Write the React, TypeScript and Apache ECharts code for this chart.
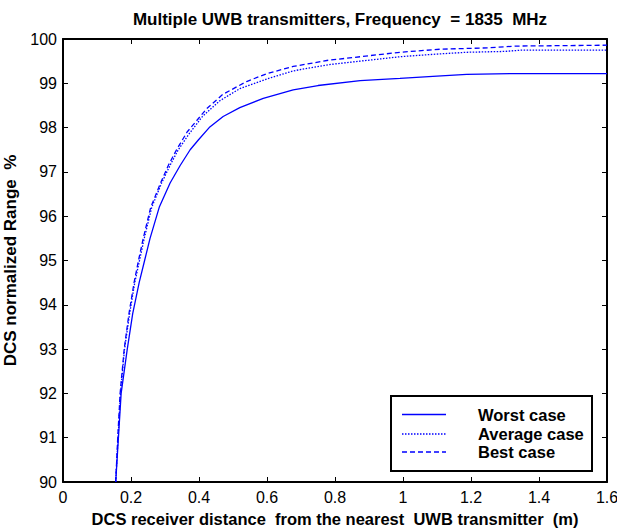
import React, { useEffect, useRef } from "react";
import * as echarts from "echarts";

const worstX = [0.155, 0.163, 0.171, 0.189, 0.205, 0.224, 0.24, 0.256, 0.283, 0.315, 0.345, 0.374, 0.398, 0.43, 0.471, 0.52, 0.589, 0.677, 0.75, 0.874, 0.991, 1.1, 1.187, 1.324, 1.6];
const worstY = [90, 91, 92, 93, 93.8, 94.5, 95.0, 95.5, 96.2, 96.75, 97.15, 97.5, 97.72, 98.0, 98.25, 98.45, 98.66, 98.85, 98.95, 99.06, 99.11, 99.16, 99.2, 99.22, 99.22];

const avgX = [0.155, 0.162, 0.169, 0.181, 0.196, 0.211, 0.225, 0.239, 0.261, 0.29, 0.315, 0.339, 0.37, 0.41, 0.46, 0.52, 0.6, 0.677, 0.78, 0.874, 0.991, 1.1, 1.187, 1.3, 1.35, 1.6];
const avgY = [90, 91, 92, 93, 93.8, 94.5, 95.0, 95.5, 96.2, 96.75, 97.15, 97.5, 97.85, 98.25, 98.6, 98.88, 99.1, 99.28, 99.42, 99.5, 99.6, 99.66, 99.7, 99.72, 99.75, 99.75];

const bestX = [0.155, 0.161, 0.168, 0.18, 0.194, 0.209, 0.222, 0.236, 0.258, 0.287, 0.31, 0.334, 0.365, 0.423, 0.47, 0.54, 0.6, 0.677, 0.78, 0.874, 0.991, 1.11, 1.25, 1.33, 1.6];
const bestY = [90, 91, 92, 93, 93.8, 94.5, 95.0, 95.5, 96.2, 96.75, 97.15, 97.5, 97.9, 98.43, 98.75, 99.04, 99.22, 99.38, 99.52, 99.6, 99.7, 99.77, 99.8, 99.84, 99.86];

const seriesNames = ["Worst case", "Average case", "Best case"];

const BLUE = "#0000ff";
const FONT = "Liberation Sans, Arial, Helvetica, sans-serif";

function pairs(xs: number[], ys: number[]) {
  return xs.map((x, i) => [x, ys[i]]);
}

export default function App() {
  const ref = useRef<HTMLDivElement>(null);
  useEffect(() => {
    document.body.style.margin = "0";
    const chart = echarts.init(ref.current!, null, { renderer: "svg" });
    const gridL = 63, gridT = 39, gridR = 10, gridB = 47;
    const axisCommon = {
      axisLine: { show: true, onZero: false, lineStyle: { color: "#000", width: 2 } },
      axisTick: { show: true, inside: true, length: 5, lineStyle: { color: "#000", width: 1 } },
      splitLine: { show: false },
    };
    const legendX = 391, legendY = 396;
    const rowY = [414.5, 434, 452];
    const dashes: any[] = [null, [1.5, 1.5], [5, 3]];
    const legendEls: any[] = [
      {
        type: "rect",
        shape: { x: legendX, y: legendY, width: 201, height: 75 },
        style: { fill: "#fff", stroke: "#000", lineWidth: 2 },
        z: 100,
      },
    ];
    seriesNames.forEach((n, i) => {
      legendEls.push({
        type: "line",
        shape: { x1: 402, y1: rowY[i], x2: 446, y2: rowY[i] },
        style: { stroke: BLUE, lineWidth: 1.3, lineDash: dashes[i] },
        z: 101,
      });
      legendEls.push({
        type: "text",
        x: 478,
        y: rowY[i],
        style: {
          text: n,
          font: `bold 16.5px ${FONT}`,
          fill: "#000",
          textAlign: "left",
          textVerticalAlign: "middle",
        },
        z: 101,
      });
    });
    chart.setOption({
      animation: false,
      backgroundColor: "#fff",
      title: {
        text: "Multiple UWB transmitters, Frequency  = 1835  MHz",
        left: 335,
        textAlign: "center",
        top: 6,
        textStyle: { fontFamily: FONT, fontWeight: "bold", fontSize: 17, color: "#000" },
      },
      grid: { left: gridL, top: gridT, right: gridR, bottom: gridB, containLabel: false, outerBoundsMode: "none" },
      xAxis: [
        {
          type: "value",
          min: 0,
          max: 1.6,
          interval: 0.2,
          position: "bottom",
          ...axisCommon,
          axisLabel: { color: "#000", fontFamily: FONT, fontSize: 16, margin: 7 },
          name: "DCS receiver distance  from the nearest  UWB transmitter  (m)",
          nameLocation: "middle",
          nameGap: 28,
          nameTextStyle: { fontFamily: FONT, fontWeight: "bold", fontSize: 16.5, color: "#000" },
        },
        {
          type: "value",
          min: 0,
          max: 1.6,
          interval: 0.2,
          position: "top",
          ...axisCommon,
          axisLabel: { show: false },
        },
      ],
      yAxis: [
        {
          type: "value",
          min: 90,
          max: 100,
          interval: 1,
          position: "left",
          ...axisCommon,
          axisLabel: { color: "#000", fontFamily: FONT, fontSize: 16, margin: 6 },
          name: "DCS normalized Range  %",
          nameLocation: "middle",
          nameGap: 39,
          nameTextStyle: { fontFamily: FONT, fontWeight: "bold", fontSize: 17, color: "#000" },
        },
        {
          type: "value",
          min: 90,
          max: 100,
          interval: 1,
          position: "right",
          ...axisCommon,
          axisLabel: { show: false },
        },
      ],
      series: [
        {
          name: seriesNames[0],
          type: "line",
          data: pairs(worstX, worstY),
          showSymbol: false,
          symbol: "none",
          lineStyle: { color: BLUE, width: 1.3, type: "solid" },
          z: 3,
        },
        {
          name: seriesNames[1],
          type: "line",
          data: pairs(avgX, avgY),
          showSymbol: false,
          symbol: "none",
          lineStyle: { color: BLUE, width: 1.3, type: [1.5, 1.5] },
          z: 3,
        },
        {
          name: seriesNames[2],
          type: "line",
          data: pairs(bestX, bestY),
          showSymbol: false,
          symbol: "none",
          lineStyle: { color: BLUE, width: 1.3, type: [5, 3] },
          z: 3,
        },
      ],
      graphic: legendEls,
    });
    return () => chart.dispose();
  }, []);
  return <div ref={ref} style={{ width: 617, height: 529 }} />;
}
